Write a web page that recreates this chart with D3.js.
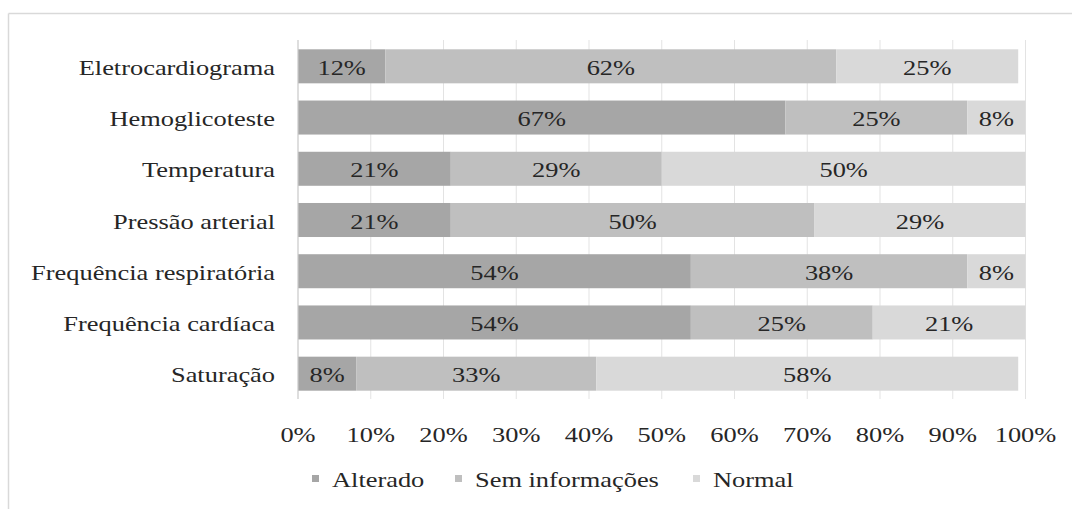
<!DOCTYPE html>
<html>
<head>
<meta charset="utf-8">
<script src="https://cdn.jsdelivr.net/npm/d3@7"></script>
<style>
  html, body { margin: 0; padding: 0; background: #fff; }
  svg { display: block; }
</style>
</head>
<body>
<svg id="chart" width="1072" height="509"></svg>
<script>
// Parâmetros avaliados (de cima para baixo)
const categories = [
  "Eletrocardiograma",
  "Hemoglicoteste",
  "Temperatura",
  "Pressão arterial",
  "Frequência respiratória",
  "Frequência cardíaca",
  "Saturação"
];
const seriesNames = ["Alterado", "Sem informações", "Normal"];
const alterado       = [12, 67, 21, 21, 54, 54, 8];
const semInformacoes = [62, 25, 29, 50, 38, 25, 33];
const normal         = [25, 8, 50, 29, 8, 21, 58];
const tickValues = [0, 10, 20, 30, 40, 50, 60, 70, 80, 90, 100];
const colors = ["#a6a6a6", "#bfbfbf", "#d9d9d9"];

const svg = d3.select("#chart");
const fontFamily = "'Liberation Serif', 'Times New Roman', Tinos, serif";
const fontSize = 22;
const stretch = 1.2; // glyphs are drawn horizontally widened

const x = d3.scaleLinear().domain([0, 100]).range([298, 1025.5]);
const y = d3.scaleBand().domain(categories).range([40.7, 399.3])
  .paddingInner(0.336).paddingOuter(0.168);

// outer frame (top and left edges)
svg.append("line").attr("x1", 8.5).attr("x2", 1072).attr("y1", 13.5).attr("y2", 13.5)
  .attr("stroke", "#d9d9d9").attr("stroke-width", 1.5);
svg.append("line").attr("x1", 8.5).attr("x2", 8.5).attr("y1", 13.5).attr("y2", 509)
  .attr("stroke", "#d9d9d9").attr("stroke-width", 1.5);

// helper for widened text
function label(parent, px, py, txt, anchor) {
  return parent.append("g")
    .attr("transform", `translate(${px},${py}) scale(${stretch},1)`)
    .append("text")
    .attr("text-anchor", anchor || "middle")
    .attr("dominant-baseline", "central")
    .attr("font-family", fontFamily)
    .attr("font-size", fontSize)
    .attr("fill", "#262626")
    .style("font-family", fontFamily)
    .text(txt);
}

// vertical gridlines
svg.append("g").selectAll("line").data(tickValues.slice(1)).join("line")
  .attr("x1", d => x(d)).attr("x2", d => x(d))
  .attr("y1", 40).attr("y2", 399)
  .attr("stroke", "#e3e3e3").attr("stroke-width", 1);

// stacked series
const rows = categories.map((c, i) => ({
  category: c,
  "Alterado": alterado[i],
  "Sem informações": semInformacoes[i],
  "Normal": normal[i]
}));
const stacked = d3.stack().keys(seriesNames)(rows);

const layers = svg.append("g").selectAll("g").data(stacked).join("g")
  .attr("fill", (d, i) => colors[i]);
layers.selectAll("rect").data(d => d).join("rect")
  .attr("x", d => x(d[0]))
  .attr("width", d => x(d[1]) - x(d[0]))
  .attr("y", d => y(d.data.category))
  .attr("height", y.bandwidth());

// value labels
const labelsG = svg.append("g");
stacked.forEach(layer => {
  layer.forEach(d => {
    const v = d[1] - d[0];
    label(labelsG, (x(d[0]) + x(d[1])) / 2, y(d.data.category) + y.bandwidth() / 2 + 1, v + "%");
  });
});

// category axis line
svg.append("line").attr("x1", x(0)).attr("x2", x(0)).attr("y1", 40).attr("y2", 399)
  .attr("stroke", "#c8c8c8").attr("stroke-width", 1.2);

// category labels
const catG = svg.append("g");
categories.forEach(c => label(catG, 275, y(c) + y.bandwidth() / 2 + 1, c, "end"));

// value axis tick labels
const tickG = svg.append("g");
tickValues.forEach(t => label(tickG, x(t), 434, t + "%"));

// legend
const legendX = [312, 455, 693];
const legendG = svg.append("g");
seriesNames.forEach((s, i) => {
  legendG.append("rect").attr("x", legendX[i]).attr("y", 475)
    .attr("width", 7).attr("height", 7).attr("fill", colors[i]);
  label(legendG, legendX[i] + 20, 479.5, s, "start");
});
</script>
</body>
</html>
